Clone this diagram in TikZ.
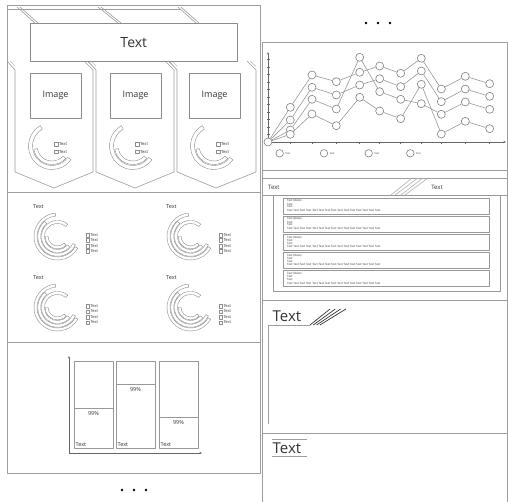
\documentclass[tikz,border=0pt]{standalone}
\usepackage{fontspec}
\setmainfont{Open Sans}
\usetikzlibrary{calc,arrows.meta}

% one ring segment: centre, inner radius, outer radius, from angle, to angle
% (angles in degrees, counter-clockwise as seen on the page)
\newcommand\ringband[5]{%
  \draw[ring] ($#1+(-#4:#3)$) arc[start angle=-#4, end angle=-#5, radius=#3]
    -- ($#1+(-#5:#2)$) arc[start angle=-#5, end angle=-#4, radius=#2] -- cycle;}

% small legend entry: name, x, y, size of the text
\newcommand\legendbox[4]{%
  \draw[ring] (#2-1.8,#3-1.8) rectangle (#2+1.8,#3+1.8);
  \node[txt, font=\fontsize{#4}{#4}\selectfont, anchor=west, inner sep=0pt] (#1) at (#2+2.8,#3) {Text};}

% four-band ring chart with its caption and legend
\newcommand\ringchart[3]{%
  \begin{scope}[shift={(#2,#3)}]
    \node[txt, font=\fontsize{5.5}{5.5}\selectfont, anchor=west, inner sep=0pt] (#1-cap) at (-24.5,-29.5) {Text};
    \ringband{(0,0)}{20.5}{23.5}{95}{330}
    \ringband{(0,0)}{16.8}{19.8}{130}{335}
    \ringband{(0,0)}{13.1}{16.1}{50}{320}
    \ringband{(0,0)}{9.4}{12.4}{180}{315}
    \legendbox{#1-l1}{30}{-1.5}{4}
    \legendbox{#1-l2}{30}{4}{4}
    \legendbox{#1-l3}{30}{9.5}{4}
    \legendbox{#1-l4}{30}{15}{4}
  \end{scope}}

% card with a picture box and a two-band gauge
\newcommand\card[5]{% name, left x, right x, tip x, picture box left x
  \draw[frame, fill=white] (#2-8,61) -- (#2,70) -- (#2,172) -- (#4,188) -- (#3,172) -- (#3,70) -- (#3-9,61);
  \draw[frame, black!25] (#2-5,61) -- (#2,66);
  \draw[frame, black!25] (#3-6,61) -- (#3,66.5);
  \node[box, minimum width=50.5pt, minimum height=45pt, anchor=north west,
        font=\fontsize{9}{9}\selectfont] (#1-img) at (#5,73) {Image};
  \begin{scope}[shift={(#2+37,146)}]
    \ringband{(0,0)}{19.5}{23.5}{120}{324}
    \ringband{(0,0)}{15}{18.5}{190}{318}
    \legendbox{#1-l1}{4}{-1.8}{4.2}
    \legendbox{#1-l2}{4}{5.6}{4.2}
  \end{scope}}

\begin{document}
\begin{tikzpicture}[x=1pt, y=-1pt, line join=round,
  frame/.style={draw=black!38, line width=0.6pt},
  ring/.style={draw=black!45, line width=0.4pt, fill=white},
  box/.style={draw=black!45, line width=0.6pt, fill=white, inner sep=0pt, text=black!80},
  txt/.style={text=black!80},
  axis/.style={draw=black!60, line width=0.6pt},
  series/.style={draw=black!40, line width=0.6pt},
  ptmark/.style={circle, draw=black!50, line width=0.6pt, fill=white, minimum size=8pt, inner sep=0pt},
  dotmark/.style={circle, fill=black, minimum size=2.8pt, inner sep=0pt},
  item/.style={draw=black!40, line width=0.6pt, fill=white},
  tiny/.style={txt, inner sep=0pt, font=\fontsize{2.9}{2.5}\selectfont, align=left},
  arr/.style={-{Stealth[length=2.5pt, width=2pt]}}]

\useasboundingbox[fill=white] (0,0) rectangle (508,502);

% ---------------- left column ----------------
\draw[frame] (7,5) -- (260,5);
\draw[frame] (7,9) -- (180,9);
\draw[frame] (17,7) -- (35,23);  \draw[frame] (20,7) -- (38,23);
\draw[frame] (98,7) -- (118,23); \draw[frame] (101,7) -- (121,23);
\draw[frame] (178,7) -- (196,23); \draw[frame] (181,7) -- (199,23);
\draw[frame] (7,5) -- (7,473) -- (260,473) -- (260,5);

\card{c1}{15}{93}{54}{30}
\card{c2}{96}{174}{135}{110}
\card{c3}{177}{256}{216}{189}

\node[box, minimum width=207pt, minimum height=38pt, anchor=north west,
      font=\fontsize{14}{14}\selectfont] (title) at (30,23) {Text};

\draw[frame] (7,192) -- (260,192);
\draw[frame] (7,342) -- (260,342);

\ringchart{r1}{57.5}{236.5}
\ringchart{r2}{190.5}{236.5}
\ringchart{r3}{57.5}{307.5}
\ringchart{r4}{190.5}{307.5}

% stacked bar chart
\coordinate (bo) at (69,453);
\coordinate (btop) at (69,356);
\coordinate (bend) at (202,453);
\draw[axis, arr] (bo) -- (btop);
\draw[axis, arr] (bo) -- (bend);
\foreach \n/\xl/\split in {1/74/408, 2/116/384, 3/159/417}{
  \draw[item] (\xl,361) rectangle (\xl+39,448);
  \draw[item] (\xl,\split) -- (\xl+39,\split);
  \node[txt, font=\fontsize{5.5}{5.5}\selectfont, inner sep=0pt] (pct\n) at (\xl+19.5,\split+5.5) {99\%};
  \node[txt, font=\fontsize{5.5}{5.5}\selectfont, inner sep=0pt, anchor=west] (bar\n) at (\xl+1.5,444.5) {Text};
}

\node[dotmark] (ld1) at (122,490) {};
\node[dotmark] (ld2) at (134,490) {};
\node[dotmark] (ld3) at (146,490) {};

% ---------------- right column ----------------
\node[dotmark] (rd1) at (366,23) {};
\node[dotmark] (rd2) at (378,23) {};
\node[dotmark] (rd3) at (390,23) {};

\draw[frame] (262,42) -- (507,42) -- (507,502);
\draw[frame] (262,42) -- (262,502);

% line chart
\coordinate (lo) at (268,142);
\coordinate (ltop) at (268,52);
\coordinate (lend) at (506,142);
\draw[axis, arr] (lo) -- (ltop);
\draw[axis, arr] (lo) -- (lend);
\foreach \k in {1,...,11}{
  \draw[axis, line width=0.5pt] (267,142-7.5*\k) -- (270,142-7.5*\k);
}
\def\xs{{268,290.3,312,336.3,359.7,379.7,400.7,421.3,441.3,465.3,489.7}}
\def\ysA{{142,107.3,75,81.7,72.3,66,73.3,58.3,89,76.3,83.7}}
\def\ysB{{142,120,87.3,95,85,78.7,86.7,71,101.7,89,96.3}}
\def\ysC{{142,130,99.3,109,57.3,91.7,99.3,103.7,114.3,102,109.3}}
\def\ysD{{142,134.3,114,125.7,97.3,111,118.7,84.3,134,121.3,128.7}}
\foreach \i in {1,...,10}{
  \pgfmathsetmacro\px{\xs[\i]}
  \draw[axis, line width=0.5pt] (\px,142) -- (\px,144.5);
}
\node[ptmark] (O) at (lo) {};
\foreach \s/\arr in {A/\ysA, B/\ysB, C/\ysC, D/\ysD}{
  \foreach \i in {1,...,10}{
    \pgfmathsetmacro\px{\xs[\i]}
    \pgfmathsetmacro\py{\arr[\i]}
    \node[ptmark] (\s\i) at (\px,\py) {};
  }
}
\foreach \s in {A,B,C,D}{
  \draw[series] (O) -- (\s1);
  \foreach \i [evaluate=\i as \j using int(\i+1)] in {1,...,9}{
    \draw[series] (\s\i) -- (\s\j);
  }
}
\foreach \n/\lx in {1/279.7, 2/324, 3/368.7, 4/410.3}{
  \node[ptmark, minimum size=7.5pt] (key\n) at (\lx,153.3) {};
  \node[txt, font=\fontsize{2.5}{2.5}\selectfont, anchor=west, inner sep=0pt] (keyt\n) at (\lx+5.5,153.3) {Text};
}

% header band with a break mark
\draw[frame] (262,170) -- (507,170);
\draw[frame] (262,178) -- (507,178);
\draw[frame] (262,195) -- (507,195);
\foreach \b/\t in {391/412, 395/418, 401/423, 405/428}{
  \draw[frame, black!30] (\b,195) -- (\t,178);
}
\node[txt, font=\fontsize{6}{6}\selectfont, anchor=west, inner sep=0pt] (hl) at (268,187) {Text};
\node[txt, font=\fontsize{6}{6}\selectfont, inner sep=0pt] (hr) at (437,187) {Text};

% list of entries
\draw[item] (273,195) rectangle (500,291);
\foreach \k in {0,...,4}{
  \pgfmathsetmacro\yt{198+18.2*\k}
  \draw[item] (283,\yt) rectangle (489,\yt+16);
  \node[tiny, anchor=north west] (e\k a) at (287,\yt+1.4) {Text (Date)\\Text\\Text};
  \node[tiny, anchor=west] (e\k b) at (287,\yt+12.2)
    {Text Text Text Text Text Text Text Text Text Text Text Text Text Text Text};
}

% free text panel
\draw[frame] (262,300) -- (507,300);
\node[txt, font=\fontsize{15}{15}\selectfont, anchor=west, inner sep=0pt] (sec4) at (272.5,316) {Text};
\foreach \k in {0,...,3}{
  \draw[black!80, line width=0.7pt] (310+3.3*\k,325) -- (330+5.3*\k,309);
}
\coordinate (cornA) at (310,325);
\coordinate (cornB) at (268,325);
\coordinate (cornC) at (268,424);
\draw[frame] (cornA) -- (cornB) -- (cornC);

% last panel
\draw[frame] (262,433) -- (507,433);
\draw[frame] (272,439) -- (307,439);
\draw[frame] (272,456) -- (307,456);
\node[txt, font=\fontsize{15}{15}\selectfont, anchor=west, inner sep=0pt] (sec5) at (272.5,448) {Text};

\end{tikzpicture}
\end{document}
